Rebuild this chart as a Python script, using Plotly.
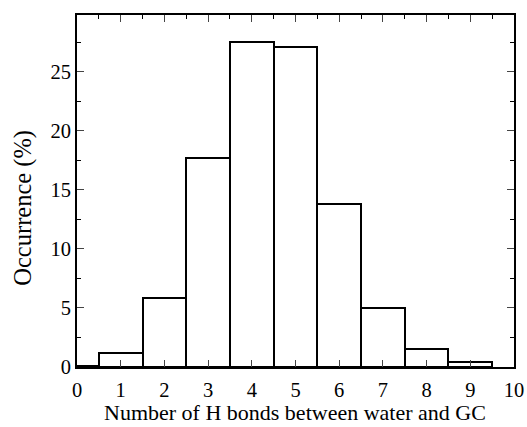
import plotly.graph_objects as go

hbonds = [0, 1, 2, 3, 4, 5, 6, 7, 8, 9]
occurrence = [0.1, 1.2, 5.8, 17.7, 27.5, 27.1, 13.8, 5.0, 1.55, 0.45]
x_ticks = [0, 1, 2, 3, 4, 5, 6, 7, 8, 9, 10]
y_ticks = [0, 5, 10, 15, 20, 25]
x_title = "Number of H bonds between water and GC"
y_title = "Occurrence (%)"

serif = "Liberation Serif, Times New Roman, serif"

fig = go.Figure(go.Bar(
    x=hbonds, y=occurrence, width=1.0,
    marker=dict(color="white", line=dict(color="black", width=2)),
))

fig.update_layout(
    width=527, height=427,
    margin=dict(l=77, r=13, t=15, b=60),
    plot_bgcolor="white", paper_bgcolor="white",
    font=dict(family=serif, size=20.5, color="black"),
    showlegend=False, bargap=0,
    annotations=[
        dict(text=x_title, xref="paper", yref="paper", x=0.498, y=-0.128,
             xanchor="center", yanchor="middle", showarrow=False,
             font=dict(family=serif, size=22, color="black")),
        dict(text=y_title, xref="paper", yref="paper", x=-0.124, y=0.452,
             xanchor="center", yanchor="middle", showarrow=False, textangle=-90,
             font=dict(family=serif, size=24.5, color="black")),
    ],
)
fig.update_xaxes(
    range=[0, 10], tickvals=x_ticks, ticks="inside", ticklen=7, tickwidth=1.2,
    showline=True, linecolor="black", linewidth=2, mirror="ticks",
    showgrid=False, zeroline=False, ticklabelstandoff=3, automargin=False,
    minor=dict(dtick=0.5, ticks="inside", ticklen=4, tickcolor="black", showgrid=False),
)
fig.update_yaxes(
    range=[0, 29.8], tickvals=y_ticks, ticks="inside", ticklen=7, tickwidth=1.2,
    showline=True, linecolor="black", linewidth=2, mirror="ticks",
    showgrid=False, zeroline=False, automargin=False,
    minor=dict(dtick=2.5, ticks="inside", ticklen=4, tickcolor="black", showgrid=False),
)
fig.write_html("out.html", config={"displayModeBar": False},
               post_script="document.body.style.margin='0';")
